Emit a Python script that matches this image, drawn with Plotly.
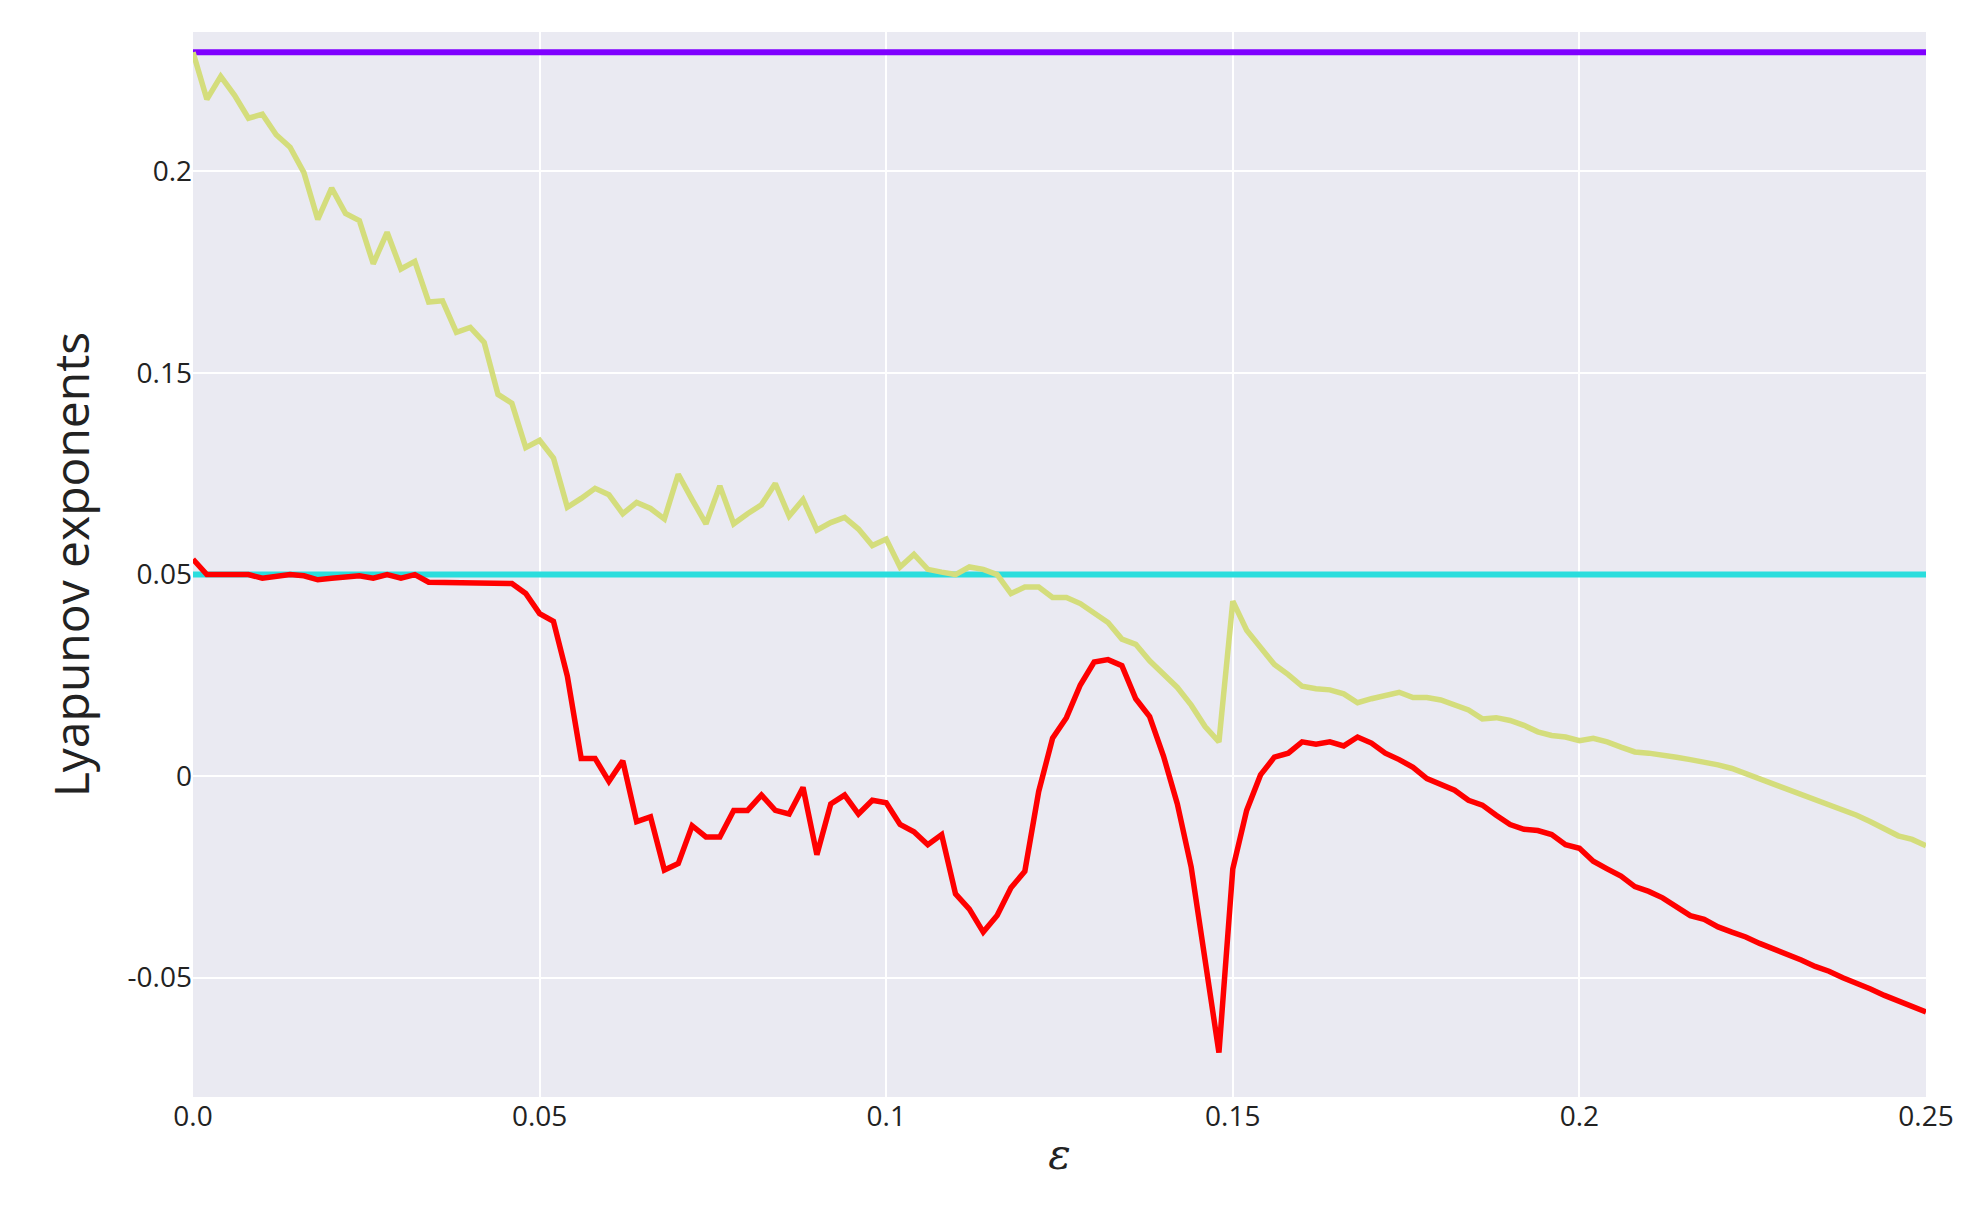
import plotly.graph_objects as go

step = 0.002
yellow = [
 0.1796, 0.1679, 0.1736, 0.1689, 0.1632, 0.1642, 0.1591, 0.1560, 0.1497, 0.1381,
 0.1459, 0.1396, 0.1378, 0.1271, 0.1349, 0.1258, 0.1277, 0.1176, 0.1179, 0.1101,
 0.1113, 0.1076, 0.0947, 0.0925, 0.0815, 0.0833, 0.0789, 0.0667, 0.0689, 0.0714,
 0.0698, 0.0651, 0.0679, 0.0664, 0.0638, 0.0749, 0.0686, 0.0626, 0.0720, 0.0626,
 0.0651, 0.0673, 0.0726, 0.0645, 0.0686, 0.0610, 0.0629, 0.0642, 0.0613, 0.0572,
 0.0588, 0.0519, 0.0550, 0.0513, 0.0506, 0.0500, 0.0519, 0.0513, 0.0500, 0.0453,
 0.0469, 0.0469, 0.0443, 0.0443, 0.0428, 0.0403, 0.0381, 0.0340, 0.0327, 0.0286,
 0.0252, 0.0220, 0.0176, 0.0123, 0.0085, 0.0434, 0.0362, 0.0318, 0.0277, 0.0252,
 0.0223, 0.0217, 0.0214, 0.0204, 0.0182, 0.0192, 0.0201, 0.0208, 0.0195, 0.0195,
 0.0189, 0.0176, 0.0164, 0.0142, 0.0145, 0.0138, 0.0126, 0.0110, 0.0101, 0.0097,
 0.0088, 0.0094, 0.0085, 0.0072, 0.0060, 0.0057, 0.0053, 0.0047, 0.0041, 0.0035,
 0.0028, 0.0019, 0.0006, -0.0006, -0.0019, -0.0031, -0.0044, -0.0057, -0.0069, -0.0082,
 -0.0097, -0.0113, -0.0132, -0.0148, -0.0157, -0.0173]
red = [
 0.0538, 0.0500, 0.0500, 0.0500, 0.0500, 0.0491, 0.0497, 0.0500, 0.0497, 0.0487,
 0.0491, 0.0494, 0.0497, 0.0491, 0.0500, 0.0491, 0.0500, 0.0481, 0.0481, 0.0478,
 0.0481, 0.0481, 0.0478, 0.0478, 0.0453, 0.0403, 0.0384, 0.0248, 0.0044, 0.0044,
 -0.0013, 0.0038, -0.0113, -0.0101, -0.0233, -0.0217, -0.0123, -0.0151, -0.0151, -0.0085,
 -0.0085, -0.0047, -0.0085, -0.0094, -0.0028, -0.0195, -0.0069, -0.0047, -0.0094, -0.0060,
 -0.0066, -0.0120, -0.0138, -0.0170, -0.0145, -0.0292, -0.0330, -0.0387, -0.0346, -0.0277,
 -0.0236, -0.0038, 0.0094, 0.0145, 0.0226, 0.0283, 0.0289, 0.0274, 0.0192, 0.0148,
 0.0050, -0.0069, -0.0226, -0.0465, -0.0686, -0.0230, -0.0085, 0.0003, 0.0047, 0.0057,
 0.0085, 0.0079, 0.0085, 0.0075, 0.0097, 0.0082, 0.0057, 0.0041, 0.0022, -0.0006,
 -0.0019, -0.0035, -0.0060, -0.0072, -0.0097, -0.0120, -0.0132, -0.0135, -0.0145, -0.0170,
 -0.0179, -0.0211, -0.0230, -0.0248, -0.0274, -0.0286, -0.0302, -0.0324, -0.0346, -0.0355,
 -0.0374, -0.0387, -0.0399, -0.0415, -0.0428, -0.0443, -0.0456, -0.0472, -0.0484, -0.0500,
 -0.0513, -0.0528, -0.0544, -0.0557, -0.0572, -0.0585]
purple_level = 0.1796
cyan_level = 0.05
ytick_vals = [-0.05, 0, 0.05, 0.1, 0.15]
ytick_text = ["-0.05", "0", "0.05", "0.15", "0.2"]
xtick_vals = [0, 0.05, 0.1, 0.15, 0.2, 0.25]
xtick_text = ["0.0", "0.05", "0.1", "0.15", "0.2", "0.25"]

xy = [i * step for i in range(len(yellow))]
xr = [i * step for i in range(len(red))]

fig = go.Figure()
fig.add_trace(go.Scatter(x=[0, 0.25], y=[purple_level]*2, mode="lines", line=dict(color="#7F00FF", width=6)))
fig.add_trace(go.Scatter(x=[0, 0.25], y=[cyan_level]*2, mode="lines", line=dict(color="#2ADDDD", width=6)))
fig.add_trace(go.Scatter(x=xy, y=yellow, mode="lines", line=dict(color="#D4DD7C", width=5.5)))
fig.add_trace(go.Scatter(x=xr, y=red, mode="lines", line=dict(color="#FF0000", width=5.5)))

fig.update_layout(
    width=1983, height=1217, showlegend=False,
    paper_bgcolor="white", plot_bgcolor="#EAEAF2",
    margin=dict(l=185, r=65, t=24, b=128),
    font=dict(family="Open Sans", color="#222"),
    xaxis=dict(range=[0, 0.25], tickvals=xtick_vals, ticktext=xtick_text, showgrid=True,
               gridcolor="white", gridwidth=2, zeroline=False, tickfont=dict(size=28),
               title=dict(text="<i>ε</i>", font=dict(size=42, family="DejaVu Serif"), standoff=6)),
    yaxis=dict(range=[-0.0796, 0.1846], tickvals=ytick_vals, ticktext=ytick_text, showgrid=True,
               gridcolor="white", gridwidth=2, zeroline=False, tickfont=dict(size=28),
               title=dict(text="Lyapunov exponents", font=dict(size=48), standoff=22)),
)
fig.write_html("out.html")
